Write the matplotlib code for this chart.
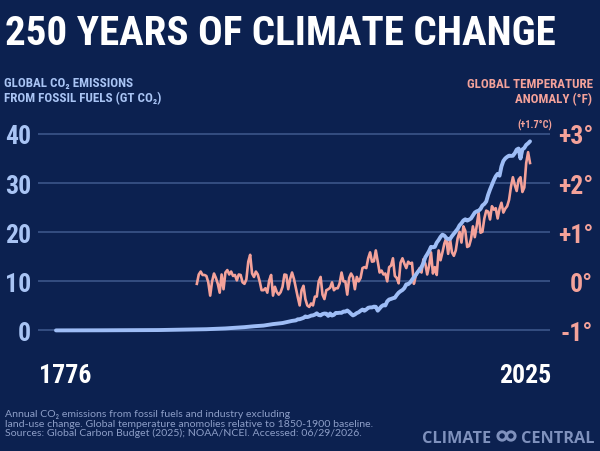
import matplotlib
matplotlib.use("Agg")
import matplotlib.pyplot as plt
import numpy as np
from matplotlib import font_manager as fm
from matplotlib.patches import Circle
from matplotlib.transforms import IdentityTransform

# ---------------- data ----------------
emis_years = [1776, 1780, 1790, 1800, 1810, 1820, 1830, 1840, 1850, 1855, 1860,
              1865, 1870, 1875, 1880, 1885, 1890, 1895] + list(range(1900, 2026))
emis_gt = [0.02, 0.02, 0.03, 0.04, 0.05, 0.07, 0.09, 0.15, 0.20, 0.26, 0.34,
           0.42, 0.54, 0.68, 0.86, 1.00, 1.30, 1.52,
           1.95, 2.01, 2.06, 2.28, 2.29, 2.43, 2.56, 2.86, 2.73, 2.85,
           3.03, 3.08, 3.23, 3.50, 3.14, 3.08, 3.35, 3.45, 3.42, 2.97,
           3.46, 3.04, 3.19, 3.58, 3.56, 3.61, 3.59, 3.86, 3.84, 4.07,
           3.78, 3.39, 3.07, 3.26, 3.55, 3.71, 4.02, 4.26, 4.02, 4.28,
           4.62, 4.70, 4.70, 4.85, 4.82, 4.03, 4.47, 4.92, 5.17, 5.09,
           5.93, 6.31, 6.42, 6.57, 6.67, 7.23, 7.70, 8.00, 8.24, 8.63,
           9.39, 9.43, 9.77, 10.31, 10.84, 11.33, 11.89, 12.28, 12.91, 13.70,
           14.90, 15.51, 16.19, 17.03, 16.94, 17.02, 17.89, 18.42, 19.06, 19.51,
           19.31, 18.82, 18.61, 18.63, 19.21, 19.71, 20.19, 20.69, 21.41, 21.84,
           22.39, 22.64, 22.37, 22.56, 22.80, 23.39, 24.01, 24.26, 24.39, 24.74,
           25.45, 25.75, 26.26, 27.62, 28.70, 29.64, 30.59, 31.39, 31.89, 31.51,
           33.40, 34.51, 35.03, 35.35, 35.59, 35.54, 35.57, 36.08, 36.83, 37.04,
           35.01, 36.86, 37.15, 37.79, 38.10, 38.50]

temp_years = list(range(1850, 2026))
temp_f = [-0.05, 0.14, 0.20, 0.13, 0.13, 0.11, -0.02, -0.29, 0.00, 0.16,
          0.07, -0.05, -0.23, 0.14, -0.16, 0.18, 0.23, 0.14, 0.20, 0.11,
          0.13, 0.02, 0.14, 0.13, -0.02, -0.05, 0.04, 0.40, 0.54, 0.16,
          0.09, 0.20, 0.14, 0.00, -0.18, -0.18, -0.14, -0.23, 0.02, 0.13,
          -0.29, -0.11, -0.22, -0.27, -0.22, -0.11, 0.14, 0.13, -0.16, 0.05,
          0.18, 0.05, -0.14, -0.32, -0.49, -0.18, -0.09, -0.36, -0.49, -0.52,
          -0.45, -0.49, -0.31, -0.31, 0.00, 0.09, -0.27, -0.36, -0.18, -0.16,
          -0.13, -0.02, -0.18, -0.14, -0.14, -0.04, 0.18, 0.00, 0.00, -0.27,
          0.07, 0.16, 0.09, -0.16, 0.09, 0.00, 0.07, 0.27, 0.29, 0.27,
          0.47, 0.59, 0.40, 0.41, 0.63, 0.41, 0.18, 0.22, 0.14, 0.16,
          0.00, 0.29, 0.32, 0.47, 0.11, 0.07, -0.04, 0.38, 0.47, 0.36,
          0.27, 0.40, 0.36, 0.38, -0.05, 0.11, 0.20, 0.27, 0.18, 0.45,
          0.36, 0.14, 0.32, 0.59, 0.16, 0.29, 0.13, 0.63, 0.43, 0.59,
          0.77, 0.88, 0.56, 0.86, 0.59, 0.52, 0.63, 0.88, 1.01, 0.79,
          1.12, 1.03, 0.70, 0.72, 0.86, 1.12, 0.90, 1.13, 1.40, 0.99,
          1.01, 1.28, 1.44, 1.42, 1.26, 1.53, 1.46, 1.49, 1.28, 1.48,
          1.60, 1.40, 1.48, 1.53, 1.66, 1.93, 2.12, 1.96, 1.84, 2.07,
          2.12, 1.82, 1.91, 2.41, 2.63, 2.41]

left_ticks = [0, 10, 20, 30, 40]
left_labels = ["0", "10", "20", "30", "40"]
right_ticks = [-1, 0, 1, 2, 3]
right_labels = ["-1°", "0°", "+1°", "+2°", "+3°"]

# ---------------- style ----------------
BG = "#0c2150"
BLUE = "#9ebdf6"
BLUE_TXT = "#a9c4f4"
SALMON = "#f4a29a"
GRID = "#3b5589"
FOOT = "#8d9ec7"
LOGO = "#7f91bd"


def _norm(s):
    return str(s).lower().replace(" ", "").replace("-", "")


def _w(v):
    if isinstance(v, str):
        return fm.weight_dict.get(v, 400)
    return v


def pick_condensed():
    skip = ("Mono", "Math", "Symbol", "CJK", "Serif", "Emoji")
    ents = [f for f in fm.fontManager.ttflist if not any(b in f.name for b in skip)]
    prio = ["notosansextracondensed", "notosansdisplayextracondensed",
            "robotocondensed", "liberationsansnarrow", "notosanscondensed",
            "opensanscondensed", "dejavusanscondensed", "extracondensed",
            "condensed", "narrow"]
    for key in prio:
        c = [f for f in ents if key in _norm(f.name) + _norm(f.stretch)]
        if c:
            best = min(c, key=lambda f: abs(_w(f.weight) - 700))
            return dict(family=[best.name, "DejaVu Sans"], weight=best.weight,
                        stretch=best.stretch)
    names = {f.name for f in ents}
    for n in ("Liberation Sans", "Roboto"):
        if n in names:
            return dict(family=[n, "DejaVu Sans"], weight="bold", stretch="normal")
    return dict(family=["DejaVu Sans"], weight="bold", stretch="normal")


CF = pick_condensed()
names = {f.name for f in fm.fontManager.ttflist}
FOOTF = ["Lato", "DejaVu Sans"] if "Lato" in names else ["DejaVu Sans"]
LOGOF = ["Open Sans", "DejaVu Sans"] if "Open Sans" in names else ["DejaVu Sans"]

W, H = 600, 452
fig = plt.figure(figsize=(6, 4.52), dpi=100, facecolor=BG)
renderer = fig.canvas.get_renderer()


def fx(x):
    return x / W


def fy(y):
    return 1 - y / H


def cprops(size):
    return dict(fontsize=size, family=CF["family"], fontweight=CF["weight"],
                fontstretch=CF["stretch"])


def width_of(s, props):
    t = fig.text(0, 0, s, **props)
    w = t.get_window_extent(renderer).width
    t.remove()
    return w


def size_for(s, target, props_fn, base=20.0):
    return base * target / width_of(s, props_fn(base))


def put(x, yc, s, color, size, props_fn, ha="left"):
    # place text so that its cap-height centre sits at pixel row yc
    cap = 0.72 * size * 100 / 72
    return fig.text(fx(x), fy(yc + cap / 2), s, color=color, ha=ha,
                    va="baseline", **props_fn(size))


def fprops(size):
    return dict(fontsize=size, family=FOOTF)


def lprops(size):
    return dict(fontsize=size, family=LOGOF, fontweight="bold")


# ---------------- axes ----------------
ax = fig.add_axes([fx(38), fy(345), (550 - 38) / W, (345 - 118) / H])
ax2 = ax.twinx()
ax.set_xlim(1766.55, 2035.5)
ax.set_ylim(-2.75, 43.46)
ax2.set_ylim(-1.275, 3.346)

for a in (ax, ax2):
    for s in a.spines.values():
        s.set_visible(False)
    a.set_xticks([])
    a.tick_params(length=0)

for v in right_ticks:
    ax2.axhline(v, color=GRID, lw=1.2, zorder=0)

ax2.plot(temp_years, temp_f, color=SALMON, lw=1.9, zorder=2,
         solid_joinstyle="round")
ax.plot(emis_years, emis_gt, color=BLUE, lw=2.8, zorder=3,
        solid_capstyle="round", solid_joinstyle="round")

ax.set_zorder(2)
ax2.set_zorder(1)
ax.patch.set_visible(False)
ax2.patch.set_visible(False)

ls = size_for("40", 26, cprops)
ax.set_yticks(left_ticks)
ax.set_yticklabels(left_labels, color=BLUE_TXT, **cprops(ls))
ax.tick_params(axis="y", pad=5)

ax2.set_yticks(right_ticks)
ax2.set_yticklabels(right_labels, color=SALMON, ha="right", **cprops(ls))
ax2.tick_params(axis="y", pad=31)

# ---------------- texts ----------------
ts = size_for("250 YEARS OF CLIMATE CHANGE", 550, cprops)
put(5, 30, "250 YEARS OF CLIMATE CHANGE", "white", ts, cprops)

s = size_for("FROM FOSSIL FUELS (GT CO₂)", 157, cprops)
put(4, 82.5, "GLOBAL CO₂ EMISSIONS", BLUE_TXT, s, cprops)
put(4, 97.5, "FROM FOSSIL FUELS (GT CO₂)", BLUE_TXT, s, cprops)

s = size_for("GLOBAL TEMPERATURE", 126, cprops)
put(593, 83, "GLOBAL TEMPERATURE", SALMON, s, cprops, ha="right")
put(592, 98, "ANOMALY (°F)", SALMON, s, cprops, ha="right")

s = size_for("(+1.7°C)", 35, cprops)
put(535, 125, "(+1.7°C)", SALMON, s, cprops, ha="center")

s = size_for("1776", 52, cprops)
put(39, 374, "1776", "white", s, cprops)
put(499, 374, "2025", "white", s, cprops)

foot = ["Annual CO₂ emissions from fossil fuels and industry excluding",
        "land-use change. Global temperature anomolies relative to 1850-1900 baseline.",
        "Sources: Global Carbon Budget (2025); NOAA/NCEI. Accessed: 06/29/2026."]
fs = size_for(foot[1], 367, fprops)
for i, line in enumerate(foot):
    put(5, 413.5 + 9.5 * i, line, FOOT, fs, fprops)

gs = size_for("CENTRAL", 73, lprops)
cw = width_of("CENTRAL", lprops(gs))
c_left = 595 - cw
gap_c = c_left - 30          # right edge of CLIMATE
put(gap_c, 437, "CLIMATE", LOGO, gs, lprops, ha="right")
put(c_left, 437, "CENTRAL", LOGO, gs, lprops)
cx0 = (gap_c + c_left) / 2
for cxp in (cx0 - 4.4, cx0 + 4.4):
    fig.add_artist(Circle((cxp, H - 437), 4.2, transform=IdentityTransform(),
                          fill=False, ec=LOGO, lw=2.1))

fig.savefig("out.png", dpi=100, facecolor=BG)
